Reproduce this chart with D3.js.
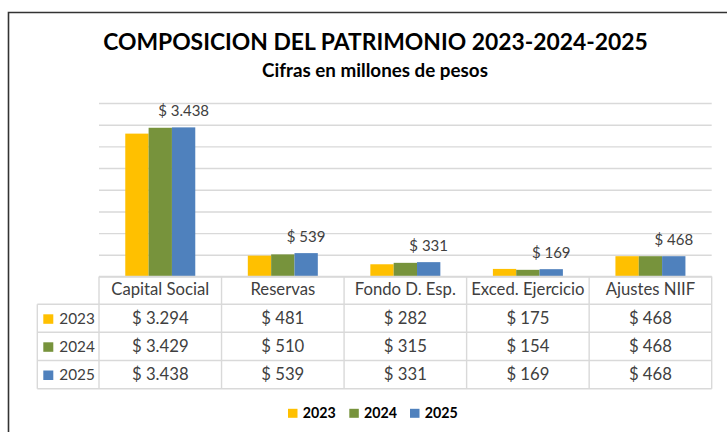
<!DOCTYPE html>
<html>
<head>
<meta charset="utf-8">
<script src="https://cdn.jsdelivr.net/npm/d3@7"></script>
<style>
  html, body { margin: 0; padding: 0; background: #fff; }
  svg { display: block; }
  text { font-family: Lato, "Open Sans", sans-serif; }
</style>
</head>
<body>
<script>
// ---------------- DATA ----------------
const categories = ["Capital Social", "Reservas", "Fondo D. Esp.", "Exced. Ejercicio", "Ajustes NIIF"];
const years = ["2023", "2024", "2025"];
const values2023 = [3294, 481, 282, 175, 468];
const values2024 = [3429, 510, 315, 154, 468];
const values2025 = [3438, 539, 331, 169, 468];
const yTickValues = [0, 500, 1000, 1500, 2000, 2500, 3000, 3500, 4000];
const titleText = "COMPOSICION DEL PATRIMONIO 2023-2024-2025";
const subtitleText = "Cifras en millones de pesos";

const seriesValues = [values2023, values2024, values2025];
const series = years.map((y, i) => ({ year: y, values: seriesValues[i] }));

// ---------------- LAYOUT ----------------
const W = 727, H = 432;
const plotLeft = 99, plotRight = 711.7, plotTop = 103, plotBottom = 276.5;
const tableLeft = 37.3;
const headerTop = plotBottom;
const rowTops = [304.3, 332.3, 360.5];
const tableBottom = 388.7;

const colors = d3.scaleOrdinal().domain(years).range(["#FFC000", "#77933C", "#4F81BD"]);
const gridColor = "#d9d9d9";
const textColor = "#404040";

const locale = d3.formatLocale({ decimal: ",", thousands: ".", grouping: [3], currency: ["$ ", ""] });
const fmt = v => "$ " + locale.format(",")(v);

const svg = d3.select("body").append("svg").attr("width", W).attr("height", H);

function fitWidth(sel, target) {
  const w = sel.node().getComputedTextLength();
  const fs = parseFloat(sel.attr("font-size"));
  const nfs = fs * target / w;
  sel.attr("font-size", nfs);
  return nfs;
}

// outer frame (only top and left visible)
svg.append("path")
  .attr("d", `M8.5,${H + 5} L8.5,12.5 L${W + 5},12.5`)
  .attr("fill", "none").attr("stroke", "#333").attr("stroke-width", 1.6);

// title
const title = svg.append("text").text(titleText)
  .attr("x", 375.5).attr("y", 50).attr("text-anchor", "middle")
  .attr("font-weight", "bold").attr("font-size", 20).attr("fill", "#000");
fitWidth(title, 545);

const subtitle = svg.append("text").text(subtitleText)
  .attr("x", 375).attr("y", 76.5).attr("text-anchor", "middle")
  .attr("font-weight", "bold").attr("font-size", 15).attr("fill", "#000");
fitWidth(subtitle, 226);

// scales
const x0 = d3.scaleBand().domain(categories).range([plotLeft, plotRight]).paddingInner(0).paddingOuter(0);
const groupW = 70;
const x1 = d3.scaleBand().domain(years)
  .range([(x0.bandwidth() - groupW) / 2, (x0.bandwidth() + groupW) / 2]).padding(0);
const y = d3.scaleLinear().domain([0, 4000]).range([plotBottom, plotTop]);

// gridlines
const yAxis = d3.axisLeft(y).tickValues(yTickValues).tickSize(-(plotRight - plotLeft)).tickFormat("");
const gAxis = svg.append("g").attr("transform", `translate(${plotLeft},0)`).call(yAxis);
gAxis.select(".domain").remove();
gAxis.selectAll(".tick line").attr("stroke", gridColor).attr("stroke-width", 1.4);

// bars
const groups = svg.append("g").selectAll("g").data(categories).join("g")
  .attr("transform", d => `translate(${x0(d)},0)`);
groups.selectAll("rect")
  .data((c, ci) => series.map(s => ({ year: s.year, value: s.values[ci] })))
  .join("rect")
  .attr("x", d => x1(d.year))
  .attr("width", x1.bandwidth())
  .attr("y", d => y(d.value))
  .attr("height", d => y(0) - y(d.value))
  .attr("fill", d => colors(d.year));

// data labels (2025 only)
const lastSeries = series[series.length - 1];
const labels = svg.append("g").selectAll("text").data(categories).join("text")
  .attr("x", (c) => x0(c) + x1(lastSeries.year) + x1.bandwidth() / 2)
  .attr("y", (c, i) => y(lastSeries.values[i]) - 11.5)
  .attr("text-anchor", "middle")
  .attr("fill", textColor)
  .attr("font-size", 15)
  .text((c, i) => fmt(lastSeries.values[i]));
const labelFs = fitWidth(d3.select(labels.nodes()[0]), 51);
labels.attr("font-size", labelFs);

// ---------------- DATA TABLE ----------------
const tg = svg.append("g");
const lineAttr = s => s.attr("stroke", gridColor).attr("stroke-width", 1.4);
// horizontal lines
lineAttr(tg.append("line").attr("x1", plotLeft).attr("x2", plotRight).attr("y1", headerTop).attr("y2", headerTop));
[...rowTops, tableBottom].forEach(yy => {
  lineAttr(tg.append("line").attr("x1", tableLeft).attr("x2", plotRight).attr("y1", yy).attr("y2", yy));
});
// vertical lines
lineAttr(tg.append("line").attr("x1", tableLeft).attr("x2", tableLeft).attr("y1", rowTops[0]).attr("y2", tableBottom));
categories.forEach(c => {
  lineAttr(tg.append("line").attr("x1", x0(c)).attr("x2", x0(c)).attr("y1", headerTop).attr("y2", tableBottom));
});
lineAttr(tg.append("line").attr("x1", plotRight).attr("x2", plotRight).attr("y1", headerTop).attr("y2", tableBottom));

// header text
const headers = tg.selectAll("text.hdr").data(categories).join("text").attr("class", "hdr")
  .attr("x", c => x0(c) + x0.bandwidth() / 2)
  .attr("y", headerTop + 18)
  .attr("text-anchor", "middle").attr("fill", textColor).attr("font-size", 16)
  .text(c => c);
const tableFs = fitWidth(d3.select(headers.nodes()[0]), 98);
headers.attr("font-size", tableFs);

// rows
let yearFs = tableFs;
series.forEach((s, si) => {
  const top = rowTops[si];
  const base = top + 19.7;
  tg.append("rect").attr("x", 43.3).attr("y", top + 10).attr("width", 10).attr("height", 9.5)
    .attr("fill", colors(s.year));
  const yt = tg.append("text").attr("x", 59.3).attr("y", base).attr("fill", textColor)
    .attr("font-size", tableFs).text(s.year);
  if (si === 0) yearFs = fitWidth(yt, 35.5);
  else yt.attr("font-size", yearFs);
  tg.selectAll(null).data(categories).join("text")
    .attr("x", c => x0(c) + x0.bandwidth() / 2)
    .attr("y", base)
    .attr("text-anchor", "middle").attr("fill", textColor).attr("font-size", tableFs)
    .text((c, ci) => fmt(s.values[ci]));
});

// ---------------- LEGEND ----------------
const legendX = [288, 349.3, 410];
const lg = svg.append("g");
let legendFs = 14;
series.forEach((s, i) => {
  lg.append("rect").attr("x", legendX[i]).attr("y", 408.8).attr("width", 9.5).attr("height", 9)
    .attr("fill", colors(s.year));
  const t = lg.append("text").attr("x", legendX[i] + 14.7).attr("y", 418.2)
    .attr("font-weight", "bold").attr("fill", "#000").attr("font-size", legendFs).text(s.year);
  if (i === 0) legendFs = fitWidth(t, 33);
  else t.attr("font-size", legendFs);
});
</script>
</body>
</html>
